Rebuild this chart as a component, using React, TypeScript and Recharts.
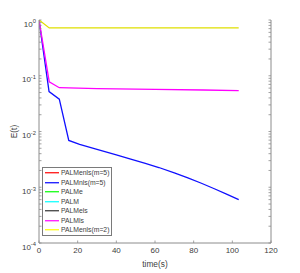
import React from 'react';
import { LineChart, Line, XAxis, YAxis, Legend } from 'recharts';

// ---- data ----
const blueT = [0, 5.2, 10.5, 15.4, 21, 30, 40, 47, 55, 62, 70, 77, 84, 91, 97, 103.3];
const blueE = [1, 0.052, 0.038, 0.0069, 0.0059, 0.0048, 0.0038, 0.00324, 0.00269, 0.00226, 0.00181, 0.00147, 0.00118, 0.00093, 0.000754, 0.0006];
const magentaT = [0, 5.3, 10.5, 30, 60, 85, 103.3];
const magentaE = [1, 0.078, 0.061, 0.059, 0.057, 0.0555, 0.054];
const yellowT = [0, 5.3, 103.3];
const yellowE = [1, 0.72, 0.72];

const seriesNames = ['PALMenls(m=5)', 'PALMnls(m=5)', 'PALMe', 'PALM', 'PALMels', 'PALMls', 'PALMenls(m=2)'];
const legendColors = ['#ff0000', '#0000ff', '#00ff00', '#00ffff', '#333333', '#ff00ff', '#ffff00'];

const xTicks = [0, 20, 40, 60, 80, 100, 120];
const yMajor = [1e-4, 1e-3, 1e-2, 1e-1, 1];
const yExp = ['-4', '-3', '-2', '-1', '0'];
const minorMult = [2, 3, 4, 5, 6, 7, 8, 9];

const toPts = (t: number[], e: number[]) => t.map((x, i) => ({ t: x, e: e[i] }));
const blueData = toPts(blueT, blueE);
const magentaData = toPts(magentaT, magentaE);
const yellowData = toPts(yellowT, yellowE);

// visible series (the others in the legend lie underneath these)
const visible = [
  { name: 'PALMnls(m=5)', data: blueData, color: '#1010ff' },
  { name: 'PALMls', data: magentaData, color: '#ff00ff' },
  { name: 'PALMenls(m=2)', data: yellowData, color: '#e0e000' },
];

const yTicksAll: number[] = [];
yMajor.forEach((m, i) => {
  yTicksAll.push(m);
  if (i < yMajor.length - 1) minorMult.forEach((k) => yTicksAll.push(m * k));
});

const FONT = 'Liberation Sans, Arial, sans-serif';
const TXT = '#404040';
const AX = '#8c8c8c';
const TL = 2.5;

const majorIndex = (v: number) => yMajor.findIndex((m) => Math.abs(m - v) / m < 1e-6);

const LeftTick = (props: any) => {
  const { x, y, payload } = props;
  const idx = majorIndex(payload.value);
  return (
    <g>
      <line x1={x + 3} x2={x + 3 + TL} y1={y} y2={y} stroke={AX} strokeWidth={0.8} />
      {idx >= 0 && (
        <text x={x} y={y + 6.5} textAnchor="end" fontFamily={FONT} fontSize={8} fill={TXT}>
          <tspan>10</tspan>
          <tspan dy={-3.2} fontSize={5.8}>{yExp[idx]}</tspan>
        </text>
      )}
    </g>
  );
};

const RightTick = (props: any) => {
  const { x, y } = props;
  return <line x1={x} x2={x - TL} y1={y} y2={y} stroke={AX} strokeWidth={0.8} />;
};

const BottomTick = (props: any) => {
  const { x, y, payload } = props;
  return (
    <g>
      <line x1={x} x2={x} y1={y} y2={y - TL} stroke={AX} strokeWidth={0.8} />
      <text x={x} y={y + 10} textAnchor="middle" fontFamily={FONT} fontSize={8} fill={TXT}>
        {payload.value}
      </text>
    </g>
  );
};

const TopTick = (props: any) => {
  const { x, y } = props;
  return <line x1={x} x2={x} y1={y} y2={y + TL} stroke={AX} strokeWidth={0.8} />;
};

const LegendBox = () => (
  <div
    style={{
      border: '1px solid #7a7a7a',
      background: '#fff',
      width: 68,
      fontFamily: FONT,
      fontSize: 6.8,
      color: TXT,
    }}
  >
    {seriesNames.map((n, i) => (
      <div key={n} style={{ height: 9.5, display: 'flex', alignItems: 'center', whiteSpace: 'nowrap' }}>
        <svg width={17} height={9.5} style={{ display: 'block', flex: 'none' }}>
          <line x1={2} x2={16} y1={4.75} y2={4.75} stroke={legendColors[i]} strokeWidth={1.2} />
        </svg>
        <span style={{ marginLeft: 1, lineHeight: '9.5px' }}>{n}</span>
      </div>
    ))}
  </div>
);

export default function App() {
  return (
    <div style={{ position: 'absolute', left: 0, top: 0, width: 300, height: 273, background: '#fff' }}>
      <LineChart width={300} height={273} margin={{ top: 20, right: 0, left: 0, bottom: 0 }}>
        <XAxis
          xAxisId="b"
          dataKey="t"
          type="number"
          domain={[0, 120]}
          ticks={xTicks}
          height={30}
          tickSize={0}
          tickMargin={0}
          tickLine={false}
          tick={<BottomTick />}
          axisLine={{ stroke: AX }}
          interval={0}
          allowDataOverflow
          label={{ value: 'time(s)', position: 'insideBottom', offset: 6, fontFamily: FONT, fontSize: 8.3, fill: TXT }}
        />
        <XAxis
          xAxisId="t"
          orientation="top"
          dataKey="t"
          type="number"
          domain={[0, 120]}
          ticks={xTicks}
          height={0}
          tickSize={0}
          tickMargin={0}
          tickLine={false}
          tick={<TopTick />}
          axisLine={{ stroke: AX }}
          interval={0}
          allowDataOverflow
        />
        <YAxis
          yAxisId="l"
          scale="log"
          type="number"
          domain={[1e-4, 1]}
          ticks={yTicksAll}
          width={39}
          tickSize={0}
          tickMargin={3}
          tickLine={false}
          tick={<LeftTick />}
          axisLine={{ stroke: AX }}
          interval={0}
          allowDataOverflow
          label={{ value: 'E(t)', angle: -90, position: 'insideLeft', offset: 14.5, fontFamily: FONT, fontSize: 8.3, fill: TXT, style: { textAnchor: 'middle' } }}
        />
        <YAxis
          yAxisId="r"
          orientation="right"
          scale="log"
          type="number"
          domain={[1e-4, 1]}
          ticks={yTicksAll}
          width={29}
          tickSize={0}
          tickMargin={0}
          tickLine={false}
          tick={<RightTick />}
          axisLine={{ stroke: AX }}
          interval={0}
          allowDataOverflow
        />
        {visible.map((s) => (
          <Line
            key={s.name}
            name={s.name}
            xAxisId="b"
            yAxisId="l"
            data={s.data}
            dataKey="e"
            stroke={s.color}
            strokeWidth={1.3}
            dot={false}
            isAnimationActive={false}
          />
        ))}
        <Legend
          layout="vertical"
          align="center"
          verticalAlign="middle"
          content={<LegendBox />}
          wrapperStyle={{ left: 42, top: 167, width: 70 }}
        />
      </LineChart>
    </div>
  );
}
